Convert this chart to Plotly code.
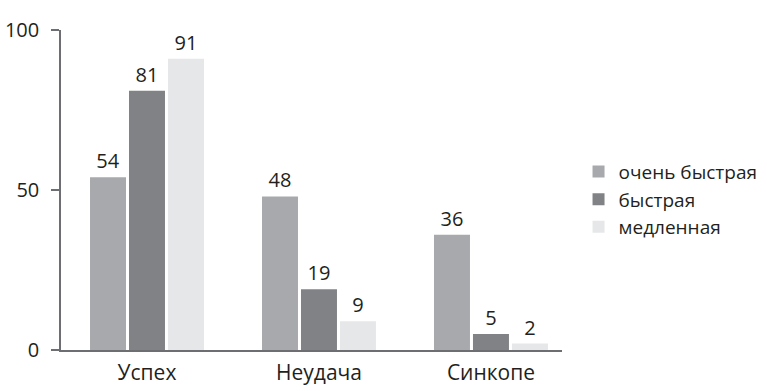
import plotly.graph_objects as go

categories = ["Успех", "Неудача", "Синкопе"]
series_names = ["очень быстрая", "быстрая", "медленная"]
very_fast = [54, 48, 36]
fast = [81, 19, 5]
slow = [91, 9, 2]
colors = ["#a7a9ac", "#808285", "#e6e7e8"]
y_ticks = [0, 50, 100]

FONT = "Open Sans"
fig = go.Figure()
for i, (name, vals) in enumerate(zip(series_names, [very_fast, fast, slow])):
    fig.add_trace(go.Bar(
        x=categories, y=vals, name=name, marker=dict(color=colors[i], line=dict(width=0)),
        text=[str(v) for v in vals], textposition="outside", cliponaxis=False,
        textfont=dict(family=FONT, size=20, color="#231f20"),
        legendgroup=f"g{i}",
    ))

fig.update_layout(
    width=767, height=391,
    margin=dict(l=61, r=205, t=30, b=41, autoexpand=False),
    paper_bgcolor="white", plot_bgcolor="white",
    barmode="group", bargap=0.32, bargroupgap=0.077,
    font=dict(family=FONT, size=20, color="#231f20"),
    showlegend=True,
    legend=dict(x=1.033, xanchor="left", y=0.47, yanchor="middle",
                font=dict(family=FONT, size=19, color="#231f20"),
                traceorder="grouped", tracegroupgap=0, itemwidth=30,
                bgcolor="rgba(0,0,0,0)"),
)
fig.update_xaxes(
    range=[-0.5, 2.413], showline=True, linecolor="#6d6e71", linewidth=1.5,
    ticks="", showgrid=False, zeroline=False, automargin=False,
    tickfont=dict(family=FONT, size=21, color="#231f20"),
    ticklabelstandoff=3,
)
fig.update_yaxes(
    range=[0, 100], tickvals=y_ticks, showline=True, linecolor="#6d6e71", linewidth=1.5,
    ticks="outside", ticklen=8, tickcolor="#6d6e71", tickwidth=1.5,
    showgrid=False, zeroline=False, automargin=False,
    tickfont=dict(family=FONT, size=20, color="#231f20"),
    ticklabelstandoff=8,
)
fig.write_html("out.html")
